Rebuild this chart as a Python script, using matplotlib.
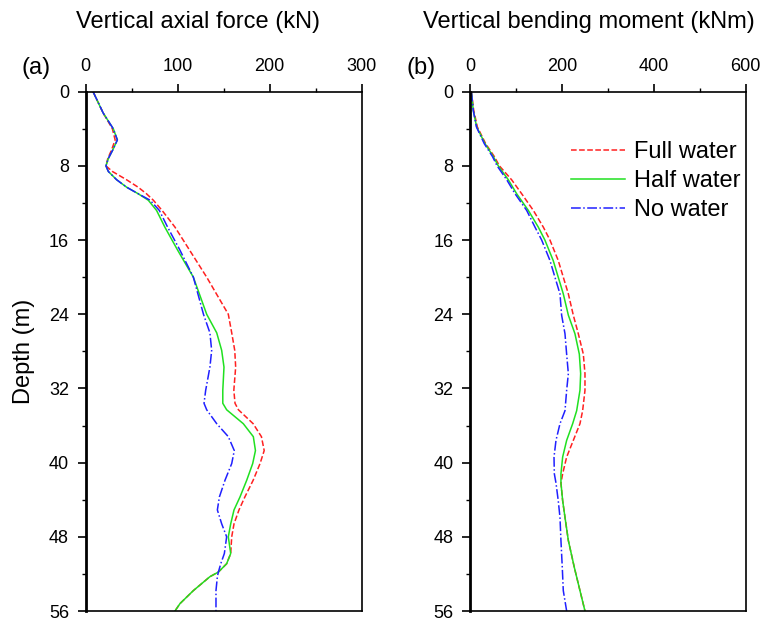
import matplotlib.pyplot as plt
import numpy as np

plt.rcParams['font.family'] = ['Liberation Sans', 'DejaVu Sans']

# (a) vertical axial force, kN
depth_a = [0, 2.3, 4, 5.2, 6.3, 7.2, 8, 8.6, 9.5, 10.3, 11.0, 11.7, 12.8, 14.6, 17.1, 20, 24,
           26, 27.9, 29.7, 32.2, 33.6, 34.3, 35.8, 37.2, 38.7, 40.1, 41.9, 43.7, 45.1, 46.6,
           48, 49.8, 50.9, 51.8, 52.3, 53.8, 55.2, 56]
full_a = [8, 19, 29, 32, 28, 24, 22, 29, 44.5, 57, 66, 73.5, 83, 97, 113, 131.5, 155,
          158.7, 162, 163, 161, 162.3, 166, 182, 191, 194, 189.5, 182, 173, 166.6, 161.2,
          158.7, 157.6, 153.2, 144.2, 135, 117, 102.5, 97]
half_a = [8, 19, 30, 34.4, 29.3, 24.6, 22, 24.6, 33.7, 44.5, 57, 68, 77, 86, 100, 117, 131.5,
          142.4, 147.8, 150.3, 149, 149, 153.2, 171.3, 182.2, 184.5, 181.5, 175, 167.7, 161.2, 157.6,
          155, 157.6, 153.2, 144.2, 135, 117, 102.5, 97]
no_a = [8, 19, 30, 34.4, 29.3, 24.6, 22, 24.6, 33.7, 44.5, 57, 70, 80, 89, 102.5, 117, 128,
        135, 136.9, 135, 130.4, 128.6, 131.5, 142.4, 155, 161.5, 158.7, 151.4, 145.3, 143.1, 147.8,
        153.2, 150.7, 146.8, 144.2, 143.1, 141.6, 141.6, 141.6]

# (b) vertical bending moment, kNm
depth_b = [0, 2, 3.8, 5.6, 7, 8, 9.5, 11, 12.8, 14.6, 16, 18.2, 20, 21.8, 24.1, 26.1, 28.3,
           30.4, 32.2, 34.4, 35.8, 37.6, 39.4, 41.2, 42.2, 44.1, 45.9, 48.4, 51.3, 53.8, 56]
full_b = [3, 8, 16, 34, 53, 64, 90.6, 112.4, 137.8, 159.5, 174, 192, 203, 214, 224.8, 235.7, 246.6,
          250.2, 250.2, 245.1, 239.3, 224.8, 210.3, 201.6, 197.9, 201.6, 206.7, 214, 227, 239.3, 250.2]
half_b = [3, 7, 14.5, 32.6, 50.8, 61.6, 83.4, 101.5, 126.9, 148.6, 163, 181, 192, 203, 214, 228.4, 237.9,
          240.8, 239.3, 232.1, 223.4, 210.3, 201.6, 197.9, 197.9, 201.6, 206.7, 214, 227, 239.3, 250.2]
no_b = [3, 7, 14, 31, 49, 59, 80, 98, 123.3, 141.4, 156, 174, 184.8, 195.8, 199.4, 206.7, 210.3,
        214, 210.3, 206.7, 195.8, 187.1, 182.8, 183.5, 187.1, 192, 195.8, 197.9, 200.8, 203, 210.3]

labels = ['Full water', 'Half water', 'No water']
colors = ['#ff2020', '#20e020', '#2020ff']
styles = ['--', '-', '-.']

fig = plt.figure(figsize=(7.66, 6.21), dpi=100)
ax1 = fig.add_axes([0.1119, 0.0161, 0.3603, 0.8362])
ax2 = fig.add_axes([0.6136, 0.0161, 0.3599, 0.8362])

for ax, d, series, xmax, xmaj, title, title_x, tag in [
        (ax1, depth_a, [full_a, half_a, no_a], 300, 100, 'Vertical axial force (kN)', 198, '(a)'),
        (ax2, depth_b, [full_b, half_b, no_b], 600, 200, 'Vertical bending moment (kNm)', 589, '(b)')]:
    for vals, lab, c, ls in zip(series, labels, colors, styles):
        ax.plot(vals, d, color=c, ls=ls, lw=1.1, label=lab)
    ax.set_xlim(0, xmax)
    ax.set_ylim(56, 0)
    ax.set_xticks(np.arange(0, xmax + 1, xmaj))
    ax.set_xticks(np.arange(xmaj / 2, xmax, xmaj), minor=True)
    ax.set_yticks(np.arange(0, 57, 8))
    ax.set_yticks(np.arange(4, 56, 8), minor=True)
    ax.xaxis.tick_top()
    ax.tick_params(which='major', length=6, width=1.2, labelsize=13, pad=6)
    ax.tick_params(which='minor', length=3, width=1.0)
    ax.spines['left'].set_linewidth(2.0)
    for s in ['top', 'right', 'bottom']:
        ax.spines[s].set_linewidth(1.2)
    bb = ax.get_position()
    fig.text(title_x / 766, 1 - 22 / 621, title, fontsize=17, ha='center', va='center')
    fig.text(bb.x0 - 64 / 766, 1 - 68 / 621, tag, fontsize=17, ha='left', va='center')

fig.text(24 / 766, 1 - 351 / 621, 'Depth (m)', fontsize=17, rotation=90, ha='center', va='center')
ax2.legend(loc='center left', bbox_to_anchor=(571 / 766, 1 - 181 / 621), bbox_transform=fig.transFigure,
           frameon=False, fontsize=17, borderpad=0, borderaxespad=0,
           handlelength=2.3, handletextpad=0.35, labelspacing=0.3)

fig.savefig('out.png', dpi=100)
